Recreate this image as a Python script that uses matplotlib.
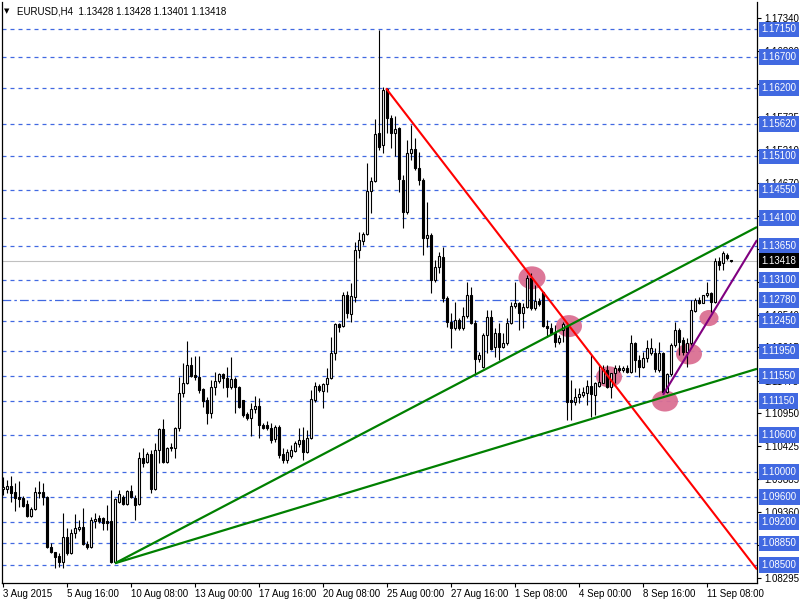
import numpy as np
import matplotlib.pyplot as plt
from matplotlib.patches import Ellipse
from matplotlib.transforms import blended_transform_factory

plt.rcParams['font.family'] = ['Liberation Sans', 'DejaVu Sans']

# EURUSD H4 candles, bar 0 = 3 Aug 2015 00:00 (6 bars per trading day)
opens = [
    1.0973, 1.0973, 1.0978, 1.0968, 1.0960, 1.0958, 1.0949, 1.0929, 1.0941, 1.0968,
    1.0968, 1.0960, 1.0879, 1.0871, 1.0865, 1.0855, 1.0895, 1.0869, 1.0902, 1.0908,
    1.0911, 1.0884, 1.0879, 1.0921, 1.0926, 1.0926, 1.0921, 1.0921, 1.0855, 1.0952,
    1.0960, 1.0949, 1.0970, 1.0958, 1.0949, 1.1023, 1.1017, 1.1030, 1.0973, 1.1036,
    1.1070, 1.1017, 1.1041, 1.1039, 1.1071, 1.1128, 1.1144, 1.1173, 1.1157, 1.1154,
    1.1134, 1.1117, 1.1096, 1.1138, 1.1147, 1.1159, 1.1152, 1.1138, 1.1151, 1.1138,
    1.1117, 1.1094, 1.1088, 1.1102, 1.1107, 1.1076, 1.1076, 1.1071, 1.1054, 1.1073,
    1.1030, 1.1020, 1.1026, 1.1034, 1.1046, 1.1052, 1.1033, 1.1055, 1.1117, 1.1139,
    1.1131, 1.1142, 1.1152, 1.1193, 1.1239, 1.1236, 1.1286, 1.1256, 1.1283, 1.1359,
    1.1373, 1.1385, 1.1454, 1.1470, 1.1548, 1.1528, 1.1619, 1.1572, 1.1548, 1.1556,
    1.1472, 1.1420, 1.1516, 1.1522, 1.1491, 1.1472, 1.1378, 1.1383, 1.1310, 1.1331,
    1.1347, 1.1281, 1.1243, 1.1233, 1.1246, 1.1233, 1.1252, 1.1286, 1.1241, 1.1183,
    1.1170, 1.1222, 1.1251, 1.1202, 1.1225, 1.1202, 1.1209, 1.1241, 1.1268, 1.1273,
    1.1257, 1.1267, 1.1314, 1.1265, 1.1276, 1.1291, 1.1236, 1.1233, 1.1225, 1.1210,
    1.1230, 1.1234, 1.1117, 1.1113, 1.1121, 1.1125, 1.1128, 1.1139, 1.1125, 1.1139,
    1.1144, 1.1165, 1.1138, 1.1160, 1.1168, 1.1165, 1.1168, 1.1162, 1.1209, 1.1181,
    1.1170, 1.1184, 1.1193, 1.1193, 1.1165, 1.1193, 1.1130, 1.1159, 1.1205, 1.1230,
    1.1214, 1.1194, 1.1209, 1.1260, 1.1278, 1.1273, 1.1286, 1.1289, 1.1275, 1.1341,
    1.1338, 1.1351, 1.13428,
]
highs = [
    1.0992, 1.0987, 1.0994, 1.0982, 1.0986, 1.0961, 1.0955, 1.0944, 1.0976, 1.0986,
    1.0982, 1.0962, 1.0886, 1.0871, 1.0869, 1.0934, 1.0910, 1.0908, 1.0932, 1.0923,
    1.0942, 1.0889, 1.0928, 1.0934, 1.0931, 1.0928, 1.0947, 1.0971, 1.0958, 1.0971,
    1.0963, 1.0971, 1.0979, 1.0963, 1.1033, 1.1039, 1.1033, 1.1036, 1.1047, 1.1071,
    1.1086, 1.1041, 1.1047, 1.1073, 1.1154, 1.1176, 1.1212, 1.1186, 1.1188, 1.1188,
    1.1136, 1.1121, 1.1149, 1.1162, 1.1160, 1.1160, 1.1170, 1.1186, 1.1154, 1.1139,
    1.1117, 1.1097, 1.1112, 1.1123, 1.1120, 1.1079, 1.1083, 1.1079, 1.1076, 1.1076,
    1.1039, 1.1038, 1.1044, 1.1050, 1.1071, 1.1073, 1.1068, 1.1133, 1.1146, 1.1142,
    1.1144, 1.1168, 1.1218, 1.1241, 1.1241, 1.1291, 1.1292, 1.1306, 1.1372, 1.1388,
    1.1388, 1.1499, 1.1477, 1.1570, 1.1714, 1.1622, 1.1621, 1.1577, 1.1575, 1.1557,
    1.1480, 1.1537, 1.1561, 1.1540, 1.1517, 1.1475, 1.1436, 1.1386, 1.1343, 1.1356,
    1.1364, 1.1285, 1.1257, 1.1275, 1.1249, 1.1267, 1.1307, 1.1299, 1.1246, 1.1194,
    1.1225, 1.1262, 1.1262, 1.1233, 1.1241, 1.1225, 1.1249, 1.1275, 1.1307, 1.1275,
    1.1273, 1.1319, 1.1322, 1.1302, 1.1281, 1.1291, 1.1246, 1.1241, 1.1238, 1.1222,
    1.1243, 1.1241, 1.1149, 1.1136, 1.1136, 1.1138, 1.1149, 1.1189, 1.1146, 1.1173,
    1.1173, 1.1173, 1.1160, 1.1173, 1.1173, 1.1171, 1.1173, 1.1222, 1.1210, 1.1189,
    1.1194, 1.1214, 1.1217, 1.1201, 1.1210, 1.1194, 1.1160, 1.1209, 1.1243, 1.1233,
    1.1218, 1.1217, 1.1278, 1.1281, 1.1283, 1.1286, 1.1307, 1.1291, 1.1346, 1.1348,
    1.1357, 1.1354, 1.13428,
]
lows = [
    1.0963, 1.0966, 1.0952, 1.0937, 1.0944, 1.0944, 1.0928, 1.0928, 1.0939, 1.0958,
    1.0947, 1.0877, 1.0869, 1.0845, 1.0847, 1.0845, 1.0867, 1.0868, 1.0894, 1.0905,
    1.0882, 1.0876, 1.0877, 1.0910, 1.0918, 1.0907, 1.0907, 1.0853, 1.0853, 1.0950,
    1.0947, 1.0947, 1.0958, 1.0923, 1.0947, 1.1008, 1.1015, 1.0966, 1.0971, 1.1015,
    1.1015, 1.1015, 1.1034, 1.1023, 1.1067, 1.1121, 1.1142, 1.1154, 1.1149, 1.1128,
    1.1105, 1.1078, 1.1088, 1.1125, 1.1144, 1.1136, 1.1121, 1.1134, 1.1096, 1.1104,
    1.1089, 1.1084, 1.1059, 1.1096, 1.1055, 1.1070, 1.1068, 1.1047, 1.1049, 1.1023,
    1.1015, 1.1015, 1.1023, 1.1033, 1.1041, 1.1020, 1.1031, 1.1054, 1.1113, 1.1130,
    1.1104, 1.1130, 1.1150, 1.1181, 1.1226, 1.1234, 1.1249, 1.1243, 1.1275, 1.1346,
    1.1367, 1.1383, 1.1419, 1.1469, 1.1520, 1.1516, 1.1548, 1.1524, 1.1511, 1.1452,
    1.1394, 1.1417, 1.1504, 1.1488, 1.1464, 1.1351, 1.1364, 1.1289, 1.1307, 1.1322,
    1.1275, 1.1234, 1.1201, 1.1230, 1.1230, 1.1230, 1.1249, 1.1239, 1.1157, 1.1178,
    1.1168, 1.1193, 1.1197, 1.1186, 1.1181, 1.1201, 1.1206, 1.1240, 1.1266, 1.1230,
    1.1233, 1.1265, 1.1262, 1.1262, 1.1268, 1.1234, 1.1218, 1.1223, 1.1202, 1.1207,
    1.1210, 1.1084, 1.1084, 1.1108, 1.1112, 1.1121, 1.1108, 1.1089, 1.1092, 1.1138,
    1.1144, 1.1136, 1.1120, 1.1144, 1.1162, 1.1162, 1.1160, 1.1160, 1.1162, 1.1154,
    1.1168, 1.1178, 1.1189, 1.1162, 1.1162, 1.1128, 1.1128, 1.1155, 1.1202, 1.1189,
    1.1189, 1.1170, 1.1206, 1.1259, 1.1272, 1.1273, 1.1283, 1.1259, 1.1273, 1.1327,
    1.1327, 1.1343, 1.13401,
]
closes = [
    1.0976, 1.0978, 1.0966, 1.0958, 1.0957, 1.0945, 1.0929, 1.0941, 1.0968, 1.0966,
    1.0960, 1.0879, 1.0871, 1.0863, 1.0855, 1.0895, 1.0869, 1.0902, 1.0910, 1.0911,
    1.0884, 1.0879, 1.0923, 1.0924, 1.0921, 1.0918, 1.0918, 1.0855, 1.0957, 1.0965,
    1.0949, 1.0970, 1.0960, 1.0947, 1.1023, 1.1015, 1.1030, 1.0973, 1.1036, 1.1070,
    1.1017, 1.1039, 1.1039, 1.1071, 1.1128, 1.1144, 1.1173, 1.1155, 1.1154, 1.1133,
    1.1115, 1.1096, 1.1138, 1.1147, 1.1159, 1.1152, 1.1138, 1.1151, 1.1138, 1.1105,
    1.1092, 1.1088, 1.1102, 1.1107, 1.1076, 1.1071, 1.1071, 1.1052, 1.1073, 1.1028,
    1.1020, 1.1033, 1.1036, 1.1047, 1.1052, 1.1033, 1.1055, 1.1118, 1.1139, 1.1133,
    1.1142, 1.1152, 1.1193, 1.1239, 1.1234, 1.1286, 1.1257, 1.1285, 1.1359, 1.1375,
    1.1385, 1.1454, 1.1470, 1.1546, 1.1525, 1.1617, 1.1572, 1.1548, 1.1554, 1.1474,
    1.1420, 1.1516, 1.1522, 1.1491, 1.1472, 1.1378, 1.1383, 1.1310, 1.1331, 1.1349,
    1.1281, 1.1243, 1.1233, 1.1246, 1.1233, 1.1252, 1.1286, 1.1241, 1.1183, 1.1189,
    1.1222, 1.1251, 1.1199, 1.1225, 1.1202, 1.1209, 1.1241, 1.1268, 1.1273, 1.1257,
    1.1267, 1.1314, 1.1265, 1.1276, 1.1271, 1.1236, 1.1233, 1.1225, 1.1210, 1.1217,
    1.1239, 1.1113, 1.1113, 1.1121, 1.1126, 1.1130, 1.1139, 1.1126, 1.1144, 1.1146,
    1.1167, 1.1138, 1.1160, 1.1168, 1.1165, 1.1168, 1.1162, 1.1209, 1.1181, 1.1170,
    1.1184, 1.1201, 1.1201, 1.1167, 1.1193, 1.1130, 1.1159, 1.1205, 1.1230, 1.1210,
    1.1194, 1.1209, 1.1262, 1.1278, 1.1273, 1.1286, 1.1289, 1.1275, 1.1341, 1.1335,
    1.1354, 1.1346, 1.13418,
]

# horizontal levels drawn on the chart
levels = [1.17150, 1.16700, 1.16200, 1.15620, 1.15100, 1.14550, 1.14100, 1.13650,
          1.13100, 1.12780, 1.12450, 1.11950, 1.11550, 1.11150, 1.10600, 1.10000,
          1.09600, 1.09200, 1.08850, 1.08500]
dashdot_level = 1.12780
last_price = 1.13418

# price scale ticks
price_ticks = [1.17340, 1.16800, 1.16275, 1.15735, 1.15210, 1.14670, 1.14145, 1.13605,
               1.13080, 1.12540, 1.12015, 1.11475, 1.10950, 1.10425, 1.09885, 1.09360,
               1.08820, 1.08295]

# time scale labels (bar index, text)
time_ticks = [0, 16, 32, 48, 64, 80, 96, 112, 128, 144, 160, 176]
time_labels = ['3 Aug 2015', '5 Aug 16:00', '10 Aug 08:00', '13 Aug 00:00',
               '17 Aug 16:00', '20 Aug 08:00', '25 Aug 00:00', '27 Aug 16:00',
               '1 Sep 08:00', '4 Sep 00:00', '8 Sep 16:00', '11 Sep 08:00']

# trend lines: (bar0, price0, bar1, price1)
red_line = (95.75, 1.1620, 188.5, 1.0843)
green_upper = (28, 1.0853, 188.5, 1.1396)
green_lower = (28, 1.0853, 188.5, 1.1167)
purple_line = (165, 1.1125, 188.5, 1.1375)

# pink marks: (bar, price, width in bars, height in price)
marks = [(132.25, 1.1314, 6.75, 0.0037),
         (141.5, 1.1236, 6.5, 0.00355),
         (151.5, 1.1154, 6.5, 0.0034),
         (165.5, 1.1115, 6.5, 0.0034),
         (171.5, 1.1191, 6.5, 0.0034),
         (176.5, 1.1249, 4.75, 0.0026)]

blue = '#4169E1'

fig = plt.figure(figsize=(8, 6), dpi=100)
ax = fig.add_axes([2 / 800, 17 / 600, 755 / 800, 581 / 600])
ax.set_xlim(-0.25, 188.5)
ax.set_ylim(1.08211, 1.17594)

# levels
for lv in levels:
    if lv == dashdot_level:
        ax.axhline(lv, color=blue, lw=0.9, dashes=(7, 2.5, 2, 2.5), zorder=1)
    else:
        ax.axhline(lv, color=blue, lw=0.9, dashes=(3.2, 3.2), zorder=1)
ax.axhline(last_price, color='#c0c0c0', lw=0.8, zorder=1)

# marks
for bx, py, w, h in marks:
    ax.add_patch(Ellipse((bx, py), w, h, facecolor='#db7093', edgecolor='none',
                         alpha=0.95, zorder=1.5))

# candles
o = np.array(opens)
hi = np.array(highs)
lo = np.array(lows)
c = np.array(closes)
x = np.arange(len(o))
up = c >= o
ax.vlines(x, lo, hi, color='black', lw=0.8, zorder=3)
bottom = np.minimum(o, c)
height = np.maximum(np.abs(c - o), 0.00004)
ax.bar(x, height, bottom=bottom, width=0.6,
       color=np.where(up, 'white', 'black'), edgecolor='black', linewidth=0.8, zorder=4)

# trend lines
for (b0, p0, b1, p1), col, lw in [(red_line, '#ff0000', 1.5),
                                   (green_upper, '#008000', 1.6),
                                   (green_lower, '#008000', 1.6),
                                   (purple_line, '#800080', 1.5)]:
    ax.plot([b0, b1], [p0, p1], color=col, lw=lw, zorder=5, solid_capstyle='butt')

# axes styling
ax.spines['top'].set_visible(False)
for side in ['left', 'right', 'bottom']:
    ax.spines[side].set_linewidth(0.9)
ax.yaxis.tick_right()
ax.set_yticks(price_ticks)
ax.set_yticklabels([f'{t:.5f}' for t in price_ticks])
ax.tick_params(axis='y', direction='out', length=3, width=0.8, labelsize=7, pad=2)
ax.set_xticks(time_ticks)
ax.set_xticklabels(time_labels, ha='left')
ax.tick_params(axis='x', direction='out', length=3, width=0.8, labelsize=7, pad=1.5)

# level labels on the price scale
trans = blended_transform_factory(ax.transAxes, ax.transData)
for lv in levels:
    ax.text(1.006, lv, f'{lv:.5f}', transform=trans, fontsize=7, color='white',
            va='center', ha='left', clip_on=False, zorder=10,
            bbox=dict(boxstyle='square,pad=0.3', facecolor=blue, edgecolor='none'))
ax.text(1.006, last_price, f'{last_price:.5f}', transform=trans, fontsize=7,
        color='white', va='center', ha='left', clip_on=False, zorder=11,
        bbox=dict(boxstyle='square,pad=0.3', facecolor='black', edgecolor='none'))

# chart header
fig.text(4 / 800, 1 - 11 / 600, '\u25bc', fontsize=5, va='center', ha='left',
         family='DejaVu Sans')
fig.text(17 / 800, 1 - 11 / 600, 'EURUSD,H4  1.13428 1.13428 1.13401 1.13418',
         fontsize=7, va='center', ha='left')

fig.savefig('out.png', dpi=100)
